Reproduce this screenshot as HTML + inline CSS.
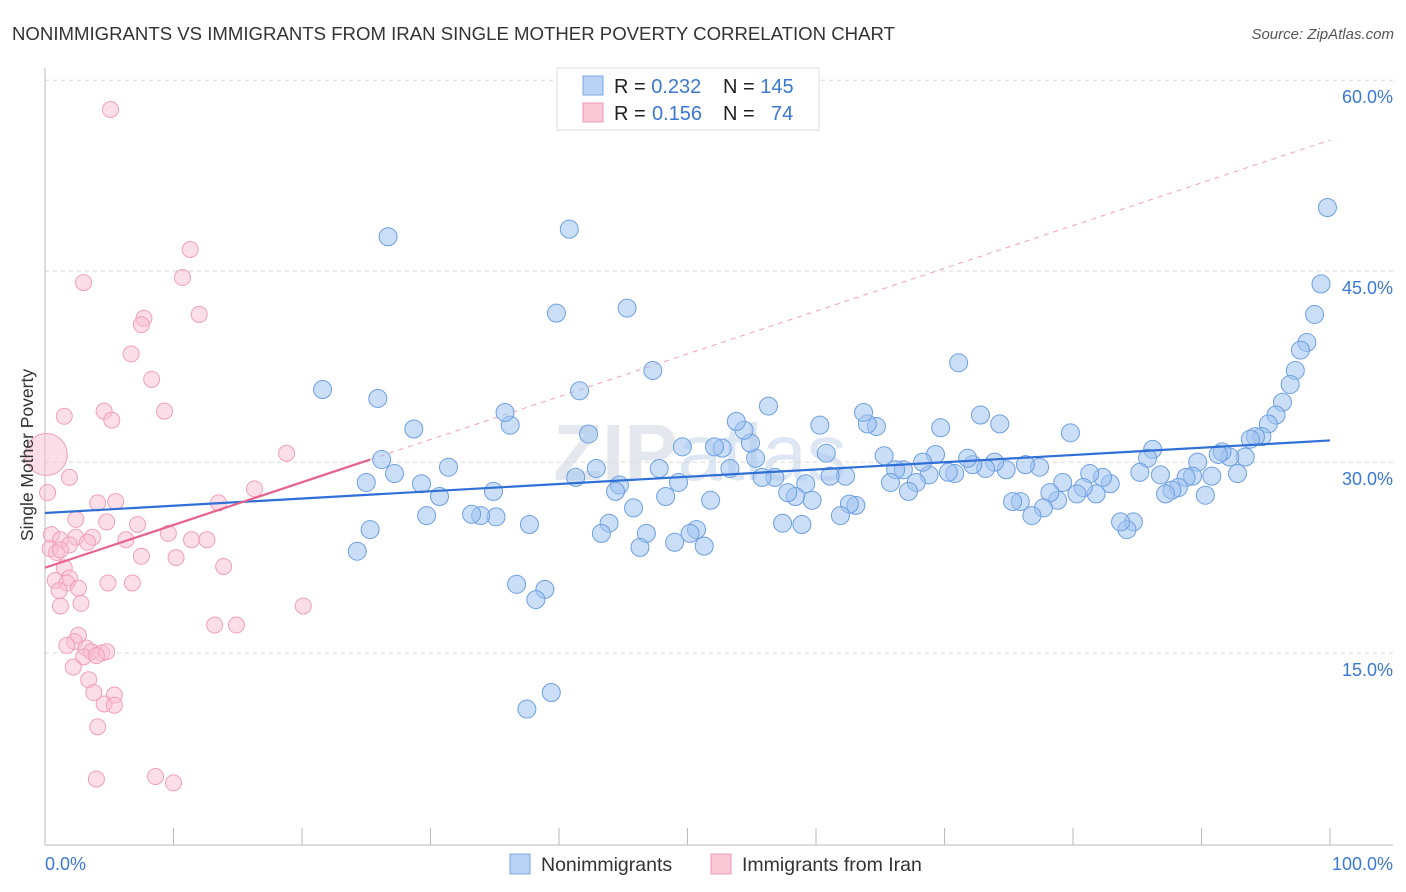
<!DOCTYPE html>
<html><head><meta charset="utf-8">
<style>
body{margin:0;background:#fff;font-family:"Liberation Sans",sans-serif;}
svg{display:block}
</style></head>
<body>
<svg id="chart" width="1406" height="892">
<text x="12" y="40" font-size="18.6" fill="#333">NONIMMIGRANTS VS IMMIGRANTS FROM IRAN SINGLE MOTHER POVERTY CORRELATION CHART</text>
<text x="1394" y="39" font-size="15" fill="#555" font-style="italic" text-anchor="end">Source: ZipAtlas.com</text>
<text x="700" y="480" font-size="80" fill="#e4e8ee" text-anchor="middle" font-weight="bold">ZIP<tspan font-weight="normal" fill="#dde6f3">atlas</tspan></text>
<g id="grid"></g>
<g id="lines"></g>
<g id="points"></g>
<text transform="translate(33,455) rotate(-90)" font-size="17.5" fill="#333" text-anchor="middle">Single Mother Poverty</text>
<text x="45" y="870" font-size="18" fill="#3a78d4">0.0%</text>
<text x="1393" y="870" font-size="18" fill="#3a78d4" text-anchor="end">100.0%</text>
<g>
<rect x="557" y="68" width="262" height="62" fill="#fff" stroke="#ddd"/>
<rect x="583" y="76" width="20" height="19" fill="#b8d3f5" stroke="#7aa7e0"/>
<rect x="583" y="103" width="20" height="19" fill="#fbc8d6" stroke="#ee9ab1"/>
<text x="614" y="93" font-size="20" fill="#222">R = <tspan fill="#3a78d4">0.232</tspan><tspan x="723">N = </tspan><tspan fill="#3a78d4">145</tspan></text>
<text x="614" y="120" font-size="20" fill="#222">R = <tspan x="652" fill="#3a78d4">0.156</tspan><tspan x="723">N = </tspan><tspan x="771" fill="#3a78d4">74</tspan></text>
</g>
<g>
<rect x="510" y="854" width="20" height="20" fill="#b8d3f5" stroke="#7aa7e0"/>
<text x="541" y="871" font-size="19.5" fill="#333">Nonimmigrants</text>
<rect x="711" y="854" width="20" height="20" fill="#fbc8d6" stroke="#ee9ab1"/>
<text x="742" y="871" font-size="19.5" fill="#333">Immigrants from Iran</text>
</g>
</svg>
<script>
const yTicks=[15,30,45,60];
const yTickLabels=["15.0%","30.0%","45.0%","60.0%"];
const xTicks=[0,10,20,30,40,50,60,70,80,90,100];
const blueX=[99.8,99.3,98.8,98.2,97.7,97.3,96.9,96.3,95.8,95.2,94.7,94.2,93.8,93.4,92.8,92.2,91.6,91.3,90.8,90.3,89.7,89.3,88.8,88.2,87.7,87.2,86.8,86.2,85.8,85.2,84.7,84.2,83.7,82.9,82.3,81.8,81.3,80.8,80.3,79.8,79.2,78.8,78.2,77.7,76.8,75.9,75.3,77.4,76.3,74.8,74.3,73.9,73.2,72.8,72.2,71.8,70.8,70.3,69.7,69.3,68.8,68.3,67.8,67.2,66.8,66.2,65.8,65.3,71.1,64.7,64.0,63.7,63.1,62.6,61.9,62.3,61.1,60.8,60.3,59.7,59.2,58.9,58.4,57.8,57.4,56.8,56.3,55.8,55.3,54.9,54.4,53.8,53.3,52.7,52.1,51.8,51.3,50.7,50.2,49.6,49.3,49.0,48.3,47.8,47.3,46.8,46.3,45.8,45.3,44.7,44.4,43.9,43.3,42.9,42.3,41.6,41.3,40.8,39.8,39.4,38.9,38.2,37.7,37.5,36.7,36.2,35.8,35.1,34.9,33.9,33.2,31.4,30.7,29.7,29.3,28.7,27.2,26.7,26.2,25.9,25.3,25.0,24.3,21.6];
const blueY=[50.0,44.0,41.6,39.4,38.8,37.2,36.1,34.7,33.7,33.0,32.0,32.0,31.8,30.4,29.1,30.4,30.8,30.6,28.9,27.4,30.0,28.9,28.8,28.0,27.8,27.5,29.0,31.0,30.3,29.2,25.3,24.7,25.3,28.3,28.8,27.5,29.1,28.0,27.5,32.3,28.4,27.0,27.6,26.4,25.8,26.9,26.9,29.6,29.8,29.4,33.0,30.0,29.5,33.7,29.8,30.3,29.1,29.2,32.7,30.6,29.0,30.0,28.4,27.7,29.4,29.4,28.4,30.5,37.8,32.8,33.0,33.9,26.6,26.7,25.8,28.9,28.9,30.7,32.9,27.0,28.3,25.1,27.3,27.6,25.2,28.8,34.4,28.8,30.3,31.5,32.5,33.2,29.5,31.1,31.2,27.0,23.4,24.7,24.4,31.2,28.4,23.7,27.3,29.5,37.2,24.4,23.3,26.4,42.1,28.2,27.7,25.2,24.4,29.5,32.2,35.6,28.8,48.3,41.7,11.9,20.0,19.2,25.1,10.6,20.4,32.9,33.9,25.7,27.7,25.8,25.9,29.6,27.3,25.8,28.3,32.6,29.1,47.7,30.2,35.0,24.7,28.4,23.0,35.7];
const pinkX=[0.1,5.1,11.3,10.7,3.0,12.0,7.7,7.5,6.7,8.3,4.6,9.3,1.5,5.2,18.8,1.9,0.2,16.3,4.1,5.5,13.5,2.4,4.8,7.2,9.6,0.5,1.2,2.4,3.7,3.3,1.9,6.3,11.4,12.6,0.4,0.9,1.2,7.5,10.2,1.5,13.9,1.9,0.8,1.7,4.9,6.8,1.1,2.6,2.8,1.2,20.1,13.2,14.9,2.6,2.3,1.7,3.2,3.6,4.4,4.8,3.0,4.0,2.2,3.4,3.8,5.4,4.6,5.4,4.1,4.0,8.6,10.0];
const pinkY=[30.6,57.7,46.7,44.5,44.1,41.6,41.3,40.8,38.5,36.5,34.0,34.0,33.6,33.3,30.7,28.8,27.6,27.9,26.8,26.9,26.8,25.5,25.3,25.1,24.4,24.3,23.9,24.1,24.1,23.7,23.5,23.9,23.9,23.9,23.2,22.9,23.1,22.6,22.5,21.7,21.8,20.9,20.7,20.5,20.5,20.5,19.9,20.1,18.9,18.7,18.7,17.2,17.2,16.4,15.9,15.6,15.4,15.1,15.0,15.1,14.7,14.8,13.9,12.9,11.9,11.7,11.0,10.9,9.2,5.1,5.3,4.8];
const blueTrend=[26.0,31.7];
const pinkTrend=[21.7,30.2];
const pinkTrendEndX=25.3;

const NS="http://www.w3.org/2000/svg";
const X=v=>45+v*12.85;
const Y=v=>844-v*12.73;
function mk(tag,attrs,parent){const e=document.createElementNS(NS,tag);for(const k in attrs)e.setAttribute(k,attrs[k]);parent.appendChild(e);return e;}
const grid=document.getElementById('grid');
yTicks.forEach((t,i)=>{
  const l=mk('line',{x1:45,x2:1393,y1:Y(t),y2:Y(t),stroke:'#d8d8d8','stroke-dasharray':'4,4'},grid);
  
  
  const tx=mk('text',{x:1393,y:Y(t)+23,'font-size':18,fill:'#3a78d4','text-anchor':'end'},grid);
  tx.textContent=yTickLabels[i];
  
  
});
const ax=mk('line',{x1:45,x2:1393,y1:845,y2:845,stroke:'#bbb'},grid);


const ay=mk('line',{x1:45,x2:45,y1:68,y2:845,stroke:'#bbb'},grid);


xTicks.forEach(t=>{
  const l=mk('line',{x1:X(t),x2:X(t),y1:828,y2:845,stroke:'#bbb'},grid);
  
  
});
const pts=document.getElementById('points');
blueX.forEach((v,i)=>{
  const c=mk('circle',{cx:X(v),cy:Y(blueY[i]),r:9,fill:'rgba(160,195,240,0.55)',stroke:'#6d9fe0','stroke-width':1},pts);
  
  
});
pinkX.forEach((v,i)=>{
  const c=mk('circle',{cx:X(v),cy:Y(pinkY[i]),r:i===0?21:8,fill:'rgba(250,190,210,0.5)',stroke:'#f0a0b8','stroke-width':1},pts);
  
  
});
const lines=document.getElementById('lines');
const slope=(pinkTrend[1]-pinkTrend[0])/pinkTrendEndX;
const pd=mk('line',{x1:X(pinkTrendEndX),y1:Y(pinkTrend[1]),x2:X(100),y2:Y(pinkTrend[0]+slope*100),stroke:'#f0a0b8','stroke-dasharray':'5,5','stroke-width':1},lines);


const bl=mk('line',{x1:X(0),y1:Y(blueTrend[0]),x2:X(100),y2:Y(blueTrend[1]),stroke:'#2f6fd6','stroke-width':2.2},pts);


const pl=mk('line',{x1:X(0),y1:Y(pinkTrend[0]),x2:X(pinkTrendEndX),y2:Y(pinkTrend[1]),stroke:'#e8628c','stroke-width':2.2},pts);


</script>
</body></html>
